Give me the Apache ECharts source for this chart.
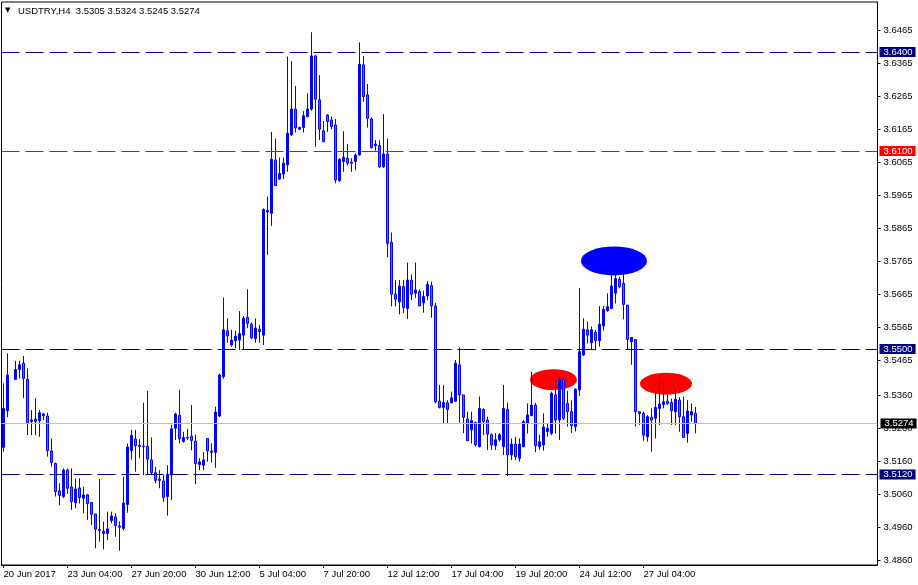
<!DOCTYPE html>
<html>
<head>
<meta charset="utf-8">
<script src="https://cdn.jsdelivr.net/npm/echarts@6/dist/echarts.min.js"></script>
<style>html,body{margin:0;padding:0;background:#fff}#c{width:918px;height:585px}</style>
</head>
<body>
<div id="c"></div>
<script>
// ---- data (USDTRY H4) ----
const opens = [3.5202,3.5313,null,3.5408,3.5438,3.5457,3.5408,3.5280,3.5280,3.5283,3.5298,3.5297,3.5191,3.5153,3.5070,3.5053,3.5133,3.5082,3.5034,3.5079,3.5048,3.5058,3.5035,3.5000,3.4953,3.4941,3.4941,3.4980,3.4991,3.4964,3.4956,3.5029,3.5192,3.5227,3.5208,3.5206,3.5205,3.5164,3.5125,3.5106,3.5100,3.5053,3.5118,3.5260,3.5299,3.5220,3.5232,3.5236,3.5221,3.5150,3.5148,3.5229,3.5191,3.5187,3.5297,3.5416,3.5555,3.5512,3.5525,3.5527,3.5542,3.5596,3.5575,3.5532,3.5560,3.5542,3.5915,3.5911,3.6073,3.6015,3.6030,3.6058,3.6149,3.6227,3.6166,3.6171,3.6204,3.6227,3.6388,3.6255,3.6161,3.6209,3.6194,3.6179,3.6010,3.6068,3.6078,3.6066,3.6068,3.6088,3.6361,3.6270,3.6197,3.6116,3.6117,3.6052,3.6091,3.5823,3.5666,3.5643,3.5689,3.5623,3.5709,3.5669,3.5674,3.5640,3.5661,3.5692,3.5630,3.5342,3.5323,3.5337,3.5337,3.5342,3.5452,3.5361,3.5288,3.5255,3.5277,3.5204,3.5317,3.5285,3.5240,3.5207,3.5225,3.5204,3.5317,3.5179,3.5212,3.5169,3.5204,3.5275,3.5298,3.5330,3.5204,3.5209,3.5250,3.5244,3.5361,3.5285,3.5408,3.5335,3.5310,3.5265,3.5376,3.5482,3.5558,3.5519,3.5551,3.5525,3.5570,3.5616,3.5623,3.5669,3.5711,3.5699,3.5633,3.5522,3.5529,3.5310,3.5305,3.5234,3.5293,3.5290,3.5320,3.5332,3.5342,3.5338,3.5310,3.5345,3.5295,3.5244,3.5300,3.5305];
const highs = [3.5396,3.5487,null,3.5464,3.5465,3.5479,3.5441,3.5315,3.5351,3.5315,3.5307,3.5307,3.5229,3.5156,3.5093,3.5138,3.5138,3.5138,3.5108,3.5108,3.5083,3.5061,3.5035,3.5000,3.5106,3.4977,3.5007,3.5007,3.5002,3.4977,3.5113,3.5214,3.5255,3.5255,3.5227,3.5337,3.5373,3.5232,3.5143,3.5133,3.5118,3.5148,3.5270,3.5307,3.5376,3.5249,3.5258,3.5330,3.5241,3.5169,3.5188,3.5229,3.5214,3.5325,3.5426,3.5656,3.5593,3.5558,3.5555,3.5615,3.5600,3.5681,3.5580,3.5593,3.5573,3.5926,3.5962,3.6158,3.6138,3.6080,3.6080,3.6386,3.6373,3.6297,3.6174,3.6221,3.6275,3.6460,3.6391,3.6330,3.6191,3.6211,3.6204,3.6197,3.6078,3.6160,3.6121,3.6078,3.6093,3.6429,3.6388,3.6303,3.6202,3.6133,3.6133,3.6212,3.6138,3.5853,3.5709,3.5709,3.5709,3.5762,3.5726,3.5762,3.5681,3.5677,3.5706,3.5704,3.5640,3.5391,3.5391,3.5345,3.5371,3.5467,3.5505,3.5361,3.5310,3.5310,3.5280,3.5356,3.5320,3.5295,3.5245,3.5245,3.5245,3.5391,3.5338,3.5229,3.5234,3.5229,3.5285,3.5335,3.5431,3.5337,3.5240,3.5305,3.5275,3.5371,3.5406,3.5416,3.5416,3.5373,3.5345,3.5381,3.5684,3.5593,3.5583,3.5568,3.5558,3.5630,3.5630,3.5669,3.5729,3.5724,3.5719,3.5729,3.5633,3.5535,3.5529,3.5310,3.5310,3.5300,3.5320,3.5366,3.5421,3.5406,3.5361,3.5350,3.5376,3.5354,3.5356,3.5345,3.5335,3.5324];
const lows = [3.5189,3.5293,null,3.5406,3.5411,3.5351,3.5239,3.5239,3.5239,3.5234,3.5285,3.5174,3.5143,3.5053,3.5026,3.5048,3.5061,3.5012,3.5017,3.5032,3.5002,3.4982,3.4967,3.4896,3.4916,3.4893,3.4921,3.4972,3.4931,3.4889,3.4950,3.5004,3.5165,3.5128,3.5169,3.5118,3.5118,3.5118,3.5093,3.5078,3.5037,3.4995,3.5042,3.5224,3.5214,3.5216,3.5224,3.5193,3.5090,3.5133,3.5133,3.5158,3.5156,3.5140,3.5293,3.5410,3.5519,3.5507,3.5502,3.5497,3.5497,3.5563,3.5530,3.5519,3.5519,3.5512,3.5785,3.5873,3.5995,3.6012,3.6015,3.6037,3.6146,3.6156,3.6164,3.6156,3.6202,3.6222,3.6113,3.6133,3.6128,3.6158,3.6166,3.6002,3.6007,3.6037,3.6056,3.6037,3.6042,3.6086,3.6249,3.6171,3.6108,3.6101,3.6049,3.6049,3.5778,3.5629,3.5629,3.5605,3.5608,3.5591,3.5648,3.5655,3.5629,3.5610,3.5648,3.5595,3.5335,3.5320,3.5275,3.5275,3.5335,3.5340,3.5277,3.5245,3.5222,3.5214,3.5204,3.5202,3.5239,3.5194,3.5194,3.5194,3.5219,3.5179,3.5115,3.5164,3.5164,3.5159,3.5202,3.5244,3.5298,3.5187,3.5194,3.5192,3.5234,3.5239,3.5244,3.5224,3.5285,3.5265,3.5246,3.5250,3.5358,3.5479,3.5517,3.5497,3.5497,3.5507,3.5556,3.5613,3.5620,3.5638,3.5684,3.5590,3.5497,3.5452,3.5265,3.5270,3.5222,3.5219,3.5189,3.5229,3.5270,3.5320,3.5330,3.5270,3.5270,3.5249,3.5232,3.5216,3.5280,3.5245];
const closes = [3.5320,3.5421,null,3.5438,3.5452,3.5411,3.5277,3.5285,3.5288,3.5307,3.5303,3.5192,3.5156,3.5068,3.5056,3.5133,3.5078,3.5037,3.5076,3.5050,3.5058,3.5032,3.4999,3.4954,3.4950,3.4948,3.4955,3.4994,3.4965,3.4960,3.5033,3.5203,3.5238,3.5207,3.5205,3.5204,3.5166,3.5125,3.5102,3.5102,3.5050,3.5120,3.5258,3.5303,3.5228,3.5232,3.5230,3.5223,3.5153,3.5158,3.5164,3.5191,3.5187,3.5309,3.5421,3.5558,3.5540,3.5527,3.5539,3.5547,3.5593,3.5578,3.5534,3.5563,3.5553,3.5923,3.5920,3.6075,3.5995,3.6032,3.6063,3.6154,3.6227,3.6170,3.6171,3.6207,3.6227,3.6388,3.6257,3.6166,3.6128,3.6189,3.6174,3.6012,3.6075,3.6081,3.6063,3.6063,3.6088,3.6363,3.6265,3.6199,3.6110,3.6121,3.6052,3.6091,3.5820,3.5666,3.5651,3.5691,3.5626,3.5709,3.5666,3.5679,3.5631,3.5659,3.5696,3.5631,3.5340,3.5323,3.5338,3.5317,3.5352,3.5457,3.5361,3.5293,3.5222,3.5283,3.5209,3.5320,3.5280,3.5242,3.5209,3.5225,3.5240,3.5320,3.5179,3.5212,3.5174,3.5212,3.5280,3.5300,3.5330,3.5207,3.5219,3.5264,3.5260,3.5366,3.5285,3.5408,3.5290,3.5310,3.5268,3.5378,3.5492,3.5560,3.5542,3.5558,3.5525,3.5575,3.5620,3.5628,3.5691,3.5714,3.5689,3.5635,3.5529,3.5535,3.5310,3.5305,3.5239,3.5295,3.5285,3.5323,3.5333,3.5340,3.5335,3.5313,3.5348,3.5295,3.5232,3.5312,3.5310,3.5274];

const tickLabels = ['20 Jun 2017','23 Jun 04:00','27 Jun 20:00','30 Jun 12:00','5 Jul 04:00','7 Jul 20:00','12 Jul 12:00','17 Jul 04:00','19 Jul 20:00','24 Jul 12:00','27 Jul 04:00'];
const tickIndex = [0,16,32,48,64,80,96,112,128,144,160];
const priceTicks = [3.4860,3.4960,3.5060,3.5160,3.5260,3.5360,3.5465,3.5565,3.5665,3.5765,3.5865,3.5965,3.6065,3.6165,3.6265,3.6365,3.6465];
const levelValues = [3.6400, 3.6100, 3.5500, 3.5120];
const levelColors = ['#000080', '#FF0000', '#000080', '#000080'];
const lastPrice = 3.5274;
const titleText = 'USDTRY,H4  3.5305 3.5324 3.5245 3.5274';
// highlighted zones (bar index, price)
const zoneBars = [153, 137, 165];
const zonePrices = [3.5767, 3.5407, 3.5395];
const zoneColors = ['#0000FF', '#FF0000', '#FF0000'];
const zoneSizes = [[66, 29], [47, 21], [52, 22]];
const zoneOffsets = [[-1.5, 0], [2, 0], [2.5, 0]];

// bar time categories (H4, weekdays), plus empty right-side space
const NBARS = 219;
const months = ['Jan','Feb','Mar','Apr','May','Jun','Jul','Aug','Sep','Oct','Nov','Dec'];
const categories = [];
let t = Date.UTC(2017, 5, 20, 12);
while (categories.length < NBARS) {
  const d = new Date(t);
  const wd = d.getUTCDay();
  if (wd !== 0 && wd !== 6) {
    categories.push(d.getUTCDate() + ' ' + months[d.getUTCMonth()] + ' ' + String(d.getUTCHours()).padStart(2,'0') + ':00');
  }
  t += 4 * 3600 * 1000;
}

const candleData = opens.map((o, i) => o == null ? '-' : [o, closes[i], lows[i], highs[i]]);

const FONT = 'Liberation Sans';
const chart = echarts.init(document.getElementById('c'), null, {renderer: 'canvas'});

const markData = levelValues.map((v, i) => ({
  yAxis: v,
  lineStyle: {color: levelColors[i], type: [18, 6], width: 1},
  label: {show: true, position: 'end', distance: 2, formatter: v.toFixed(4),
          backgroundColor: levelColors[i], color: '#fff', fontFamily: FONT, fontSize: 9.5,
          lineHeight: 10, padding: [0, 3, 0, 4]}
}));
markData.push({
  yAxis: lastPrice,
  lineStyle: {color: '#C0C0C0', type: 'solid', width: 1},
  label: {show: true, position: 'end', distance: 3, formatter: lastPrice.toFixed(4),
          backgroundColor: '#000', color: '#fff', fontFamily: FONT, fontSize: 9.5,
          lineHeight: 10, padding: [0, 3, 0, 4]}
});

chart.setOption({
  animation: false,
  backgroundColor: '#fff',
  title: [
    {text: '▼', left: 5, top: 7, padding: 0, textStyle: {fontFamily: 'DejaVu Sans', fontSize: 7, color: '#000', fontWeight: 'normal'}},
    {text: titleText, left: 18, top: 6, padding: 0, textStyle: {fontFamily: FONT, fontSize: 9.5, color: '#000', fontWeight: 'normal'}}
  ],
  grid: {left: 1.5, top: 2, width: 876, height: 563, show: true, borderColor: '#000', borderWidth: 1, backgroundColor: '#fff'},
  xAxis: {
    type: 'category', data: categories, boundaryGap: true,
    axisLine: {show: true, lineStyle: {color: '#000', width: 1}},
    axisTick: {show: true, alignWithLabel: true, length: 3, interval: (i) => tickIndex.includes(i), lineStyle: {color: '#000'}},
    axisLabel: {show: true, interval: (i) => tickIndex.includes(i), formatter: (v, i) => tickLabels[tickIndex.indexOf(i)] || '',
                align: 'left', margin: 4, fontFamily: FONT, fontSize: 9.5, color: '#000'},
    splitLine: {show: false}
  },
  yAxis: {
    type: 'value', position: 'right', min: 3.48455, max: 3.65515, scale: true,
    axisLine: {show: true, lineStyle: {color: '#000', width: 1}},
    axisTick: {show: true, length: 3, customValues: priceTicks, lineStyle: {color: '#000'}},
    axisLabel: {show: true, customValues: priceTicks, formatter: (v) => Number(v).toFixed(4), margin: 6,
                fontFamily: FONT, fontSize: 9.5, color: '#000'},
    splitLine: {show: false}
  },
  series: [
    {
      type: 'scatter', z: 1, silent: true,
      data: zoneBars.map((b, i) => ({
        value: [b, zonePrices[i]], symbol: 'circle', symbolSize: zoneSizes[i], symbolOffset: zoneOffsets[i],
        itemStyle: {color: zoneColors[i], opacity: 1}
      }))
    },
    {
      type: 'candlestick', z: 3, silent: true,
      data: candleData,
      barWidth: 2,
      itemStyle: {color: '#0000FF', color0: '#FF4500', borderColor: '#0000FF', borderColor0: '#0000FF', borderWidth: 1},
      markLine: {silent: true, symbol: ['none', 'none'], animation: false, precision: 4, data: markData}
    }
  ]
});
</script>
</body>
</html>
